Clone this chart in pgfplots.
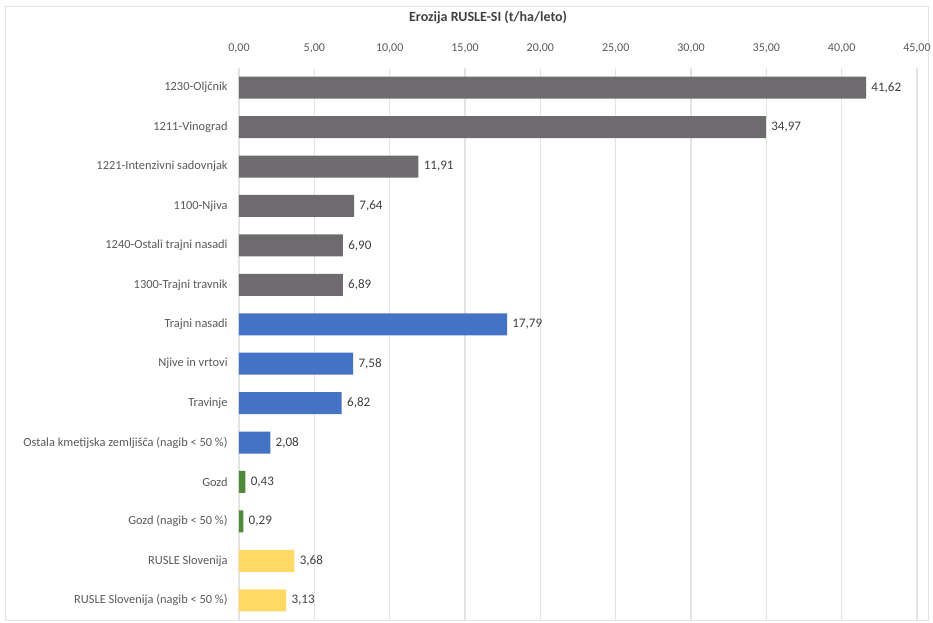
\documentclass[border=0pt]{standalone}
\usepackage{pgfplots}
\pgfplotsset{compat=1.18}
\usepackage{fontspec}
\setmainfont{Carlito}
\definecolor{barGray}{HTML}{6E6B6F}
\definecolor{barBlue}{HTML}{4472C4}
\definecolor{barGreen}{HTML}{4E8A3A}
\definecolor{barYellow}{HTML}{FFD966}
\definecolor{txt}{HTML}{595959}
\definecolor{valtxt}{HTML}{404040}
\definecolor{gridc}{HTML}{E3E3E3}

\begin{document}
\begin{tikzpicture}[x=0.75pt,y=0.75pt]
% picture frame, pixel (px,py) -> ((px-239), (620-py))
\path[use as bounding box] (-239,-3) rectangle (694,620);
\draw[gridc, line width=0.75pt] (-233,-1) rectangle (689,613);
\node[font=\bfseries\fontsize{10.5}{12}\selectfont, text=valtxt] at (249,602) {Erozija RUSLE-SI (t/ha/leto)};
\begin{axis}[
    at={(0,0)}, anchor=south west,
    scale only axis,
    width=508.5pt, height=414pt,
    xbar, bar width=16.5pt, bar shift=0pt,
    xmin=0, xmax=45,
    ymin=-0.5, ymax=13.5,
    y dir=reverse,
    axis line style={draw=none},
    xtick={0,5,...,45},
    xticklabel pos=top,
    xmajorgrids, grid style={gridc, line width=0.9pt},
    major tick length=0pt,
    ytick={0,...,13},
    yticklabels={1230-Oljčnik, 1211-Vinograd, 1221-Intenzivni sadovnjak, 1100-Njiva, 1240-Ostali trajni nasadi, 1300-Trajni travnik, Trajni nasadi, Njive in vrtovi, Travinje, {Ostala kmetijska zemljišča (nagib < 50 \%)}, Gozd, {Gozd (nagib < 50 \%)}, RUSLE Slovenija, {RUSLE Slovenija (nagib < 50 \%)}},
    yticklabel style={font=\fontsize{9.3}{11}\selectfont, text=txt, xshift=-5pt},
    xticklabel style={font=\fontsize{9}{11}\selectfont, text=txt, yshift=7.5pt},
    /pgf/number format/.cd, fixed, fixed zerofill, precision=2, use comma, assume math mode=true,
    /pgfplots/.cd,
    nodes near coords={\pgfmathprintnumber[fixed,fixed zerofill,precision=2,use comma,assume math mode=true]{\pgfplotspointmeta}},
    nodes near coords style={font=\fontsize{9.8}{11}\selectfont, text=valtxt, xshift=0.5pt},
    point meta=x,
]
\addplot[fill=barGray, draw=none] coordinates {(41.62,0) (34.97,1) (11.91,2) (7.64,3) (6.90,4) (6.89,5)};
\addplot[fill=barBlue, draw=none] coordinates {(17.79,6) (7.58,7) (6.82,8) (2.08,9)};
\addplot[fill=barGreen, draw=none] coordinates {(0.43,10) (0.29,11)};
\addplot[fill=barYellow, draw=none] coordinates {(3.68,12) (3.13,13)};
\end{axis}
\end{tikzpicture}
\end{document}
